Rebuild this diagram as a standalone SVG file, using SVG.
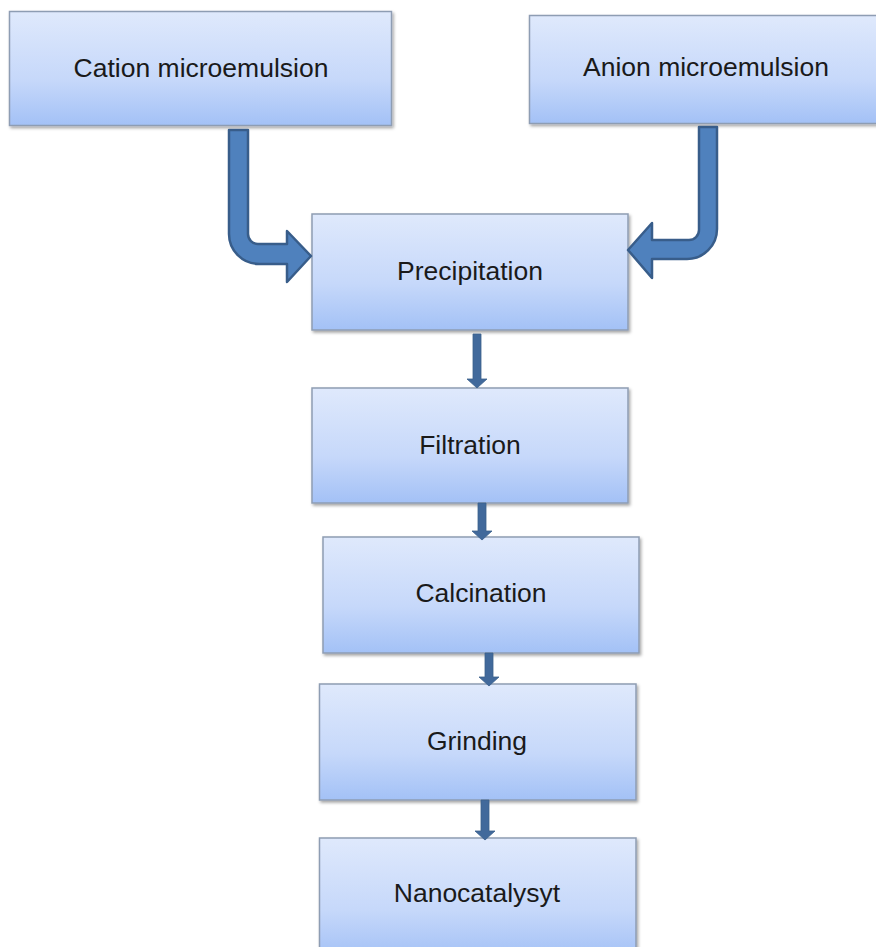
<svg xmlns="http://www.w3.org/2000/svg" width="876" height="947" viewBox="0 0 876 947">
<defs>
<linearGradient id="g" x1="0" y1="0" x2="0" y2="1">
<stop offset="0" stop-color="#dfe9fc"/>
<stop offset="0.6" stop-color="#c6d8fa"/>
<stop offset="1" stop-color="#a3c1f6"/>
</linearGradient>
<filter id="sh" x="-5%" y="-5%" width="112%" height="115%">
<feDropShadow dx="1.5" dy="2" stdDeviation="1.5" flood-color="#000" flood-opacity="0.35"/>
</filter>
<style>
.box{fill:url(#g);stroke:#8e9db3;stroke-width:1.5;filter:url(#sh)}
.lbl{font-family:"Liberation Sans",Arial,sans-serif;font-size:26.5px;fill:#1a1a1a;text-anchor:middle;dominant-baseline:central}
.big{fill:#4f81bd;stroke:#385d8a;stroke-width:2.5;stroke-linejoin:round}
.sm{fill:#41699b;stroke:#3a5f8c;stroke-width:0.8}
</style>
</defs>
<rect width="876" height="947" fill="#fff"/>
<g id="cation"><rect class="box" x="9.5" y="11.5" width="382" height="114"/><text class="lbl" x="201" y="68">Cation microemulsion</text></g>
<g id="anion"><rect class="box" x="529.5" y="15.5" width="356" height="108"/><text class="lbl" x="706" y="67">Anion microemulsion</text></g>
<g id="precipitation"><rect class="box" x="312" y="214" width="316" height="116"/><text class="lbl" x="470" y="271">Precipitation</text></g>
<g id="filtration"><rect class="box" x="312" y="388" width="316" height="115"/><text class="lbl" x="470" y="445">Filtration</text></g>
<g id="calcination"><rect class="box" x="323" y="537" width="316" height="116"/><text class="lbl" x="481" y="593">Calcination</text></g>
<g id="grinding"><rect class="box" x="319.5" y="684" width="316.5" height="116"/><text class="lbl" x="477" y="741">Grinding</text></g>
<g id="nanocatalysyt"><rect class="box" x="319.5" y="838" width="316.5" height="120"/><text class="lbl" x="477" y="893">Nanocatalysyt</text></g>
<g id="connectors">
<path class="big" d="M229,130 H248 V234 A10,10 0 0 0 258,244 H287 V231 L311,256 L287,282 V264 H259 A30,30 0 0 1 229,234 Z"/>
<path class="big" d="M717,127 V229 A30,30 0 0 1 687,259 H652 V278 L628,250 L652,223 V240 H689 A10,10 0 0 0 699,230 V127 Z"/>
<path class="sm" d="M473,334 H481 V379 H487 L477,388 L467,379 H473 Z"/>
<path class="sm" d="M478,503 H486 V531 H492 L482,540 L472,531 H478 Z"/>
<path class="sm" d="M485,653 H493 V677 H499 L489,686 L479,677 H485 Z"/>
<path class="sm" d="M481,800 H489 V831 H495 L485,840 L475,831 H481 Z"/>
</g>
</svg>
